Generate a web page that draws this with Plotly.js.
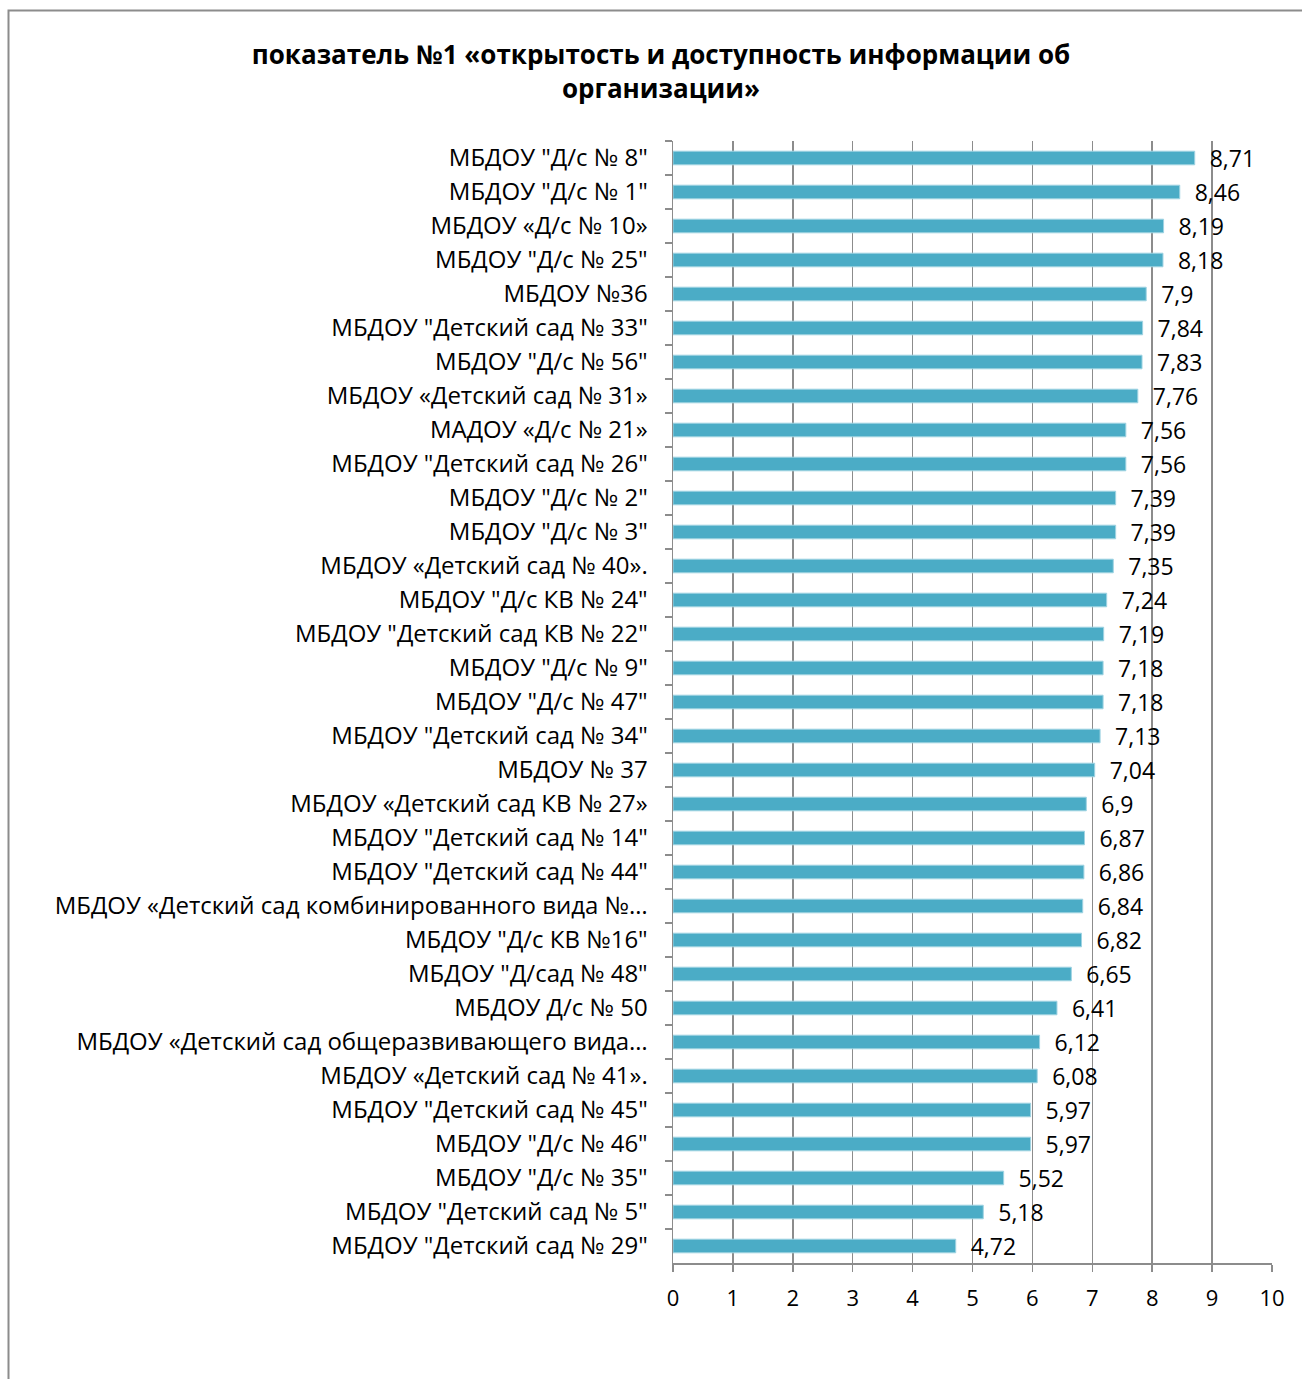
<!DOCTYPE html>
<html>
<head>
<meta charset="utf-8">
<script src="https://cdn.plot.ly/plotly-3.0.1.min.js"></script>
<style>
html,body{margin:0;padding:0;background:#fff;}
#chart{width:1302px;height:1379px;}
</style>
</head>
<body>
<div id="chart"></div>
<script>
const categories = [
  'МБДОУ "Д/с № 8"',
  'МБДОУ "Д/с № 1"',
  'МБДОУ «Д/с № 10»',
  'МБДОУ "Д/с № 25"',
  'МБДОУ №36',
  'МБДОУ "Детский сад № 33"',
  'МБДОУ "Д/с № 56"',
  'МБДОУ «Детский сад № 31»',
  'МАДОУ «Д/с № 21»',
  'МБДОУ "Детский сад № 26"',
  'МБДОУ "Д/с № 2"',
  'МБДОУ "Д/с № 3"',
  'МБДОУ «Детский сад № 40».',
  'МБДОУ "Д/с КВ № 24"',
  'МБДОУ "Детский сад КВ № 22"',
  'МБДОУ "Д/с № 9"',
  'МБДОУ "Д/с № 47"',
  'МБДОУ "Детский сад № 34"',
  'МБДОУ № 37',
  'МБДОУ «Детский сад КВ № 27»',
  'МБДОУ "Детский сад № 14"',
  'МБДОУ "Детский сад № 44"',
  'МБДОУ «Детский сад комбинированного вида №…',
  'МБДОУ "Д/с КВ №16"',
  'МБДОУ "Д/сад № 48"',
  'МБДОУ Д/с № 50',
  'МБДОУ «Детский сад общеразвивающего вида…',
  'МБДОУ «Детский сад № 41».',
  'МБДОУ "Детский сад № 45"',
  'МБДОУ "Д/с № 46"',
  'МБДОУ "Д/с № 35"',
  'МБДОУ "Детский сад № 5"',
  'МБДОУ "Детский сад № 29"'
];
const values = [8.71, 8.46, 8.19, 8.18, 7.9, 7.84, 7.83, 7.76, 7.56, 7.56, 7.39, 7.39, 7.35, 7.24, 7.19, 7.18, 7.18, 7.13, 7.04, 6.9, 6.87, 6.86, 6.84, 6.82, 6.65, 6.41, 6.12, 6.08, 5.97, 5.97, 5.52, 5.18, 4.72];
const xTickValues = [0,1,2,3,4,5,6,7,8,9,10];
const titleText = 'показатель №1 «открытость и доступность информации об<br>организации»';

const labels = values.map(v => '\u00a0\u00a0' + String(v).replace('.', ','));

// plot area in pixels
const L = 673, R = 1272, T = 141, B = 1263;
const px = p => (p - L) / (R - L);
const py = p => (B - p) / (B - T);

const trace = {
  type: 'bar',
  orientation: 'h',
  y: categories,
  x: values,
  text: labels,
  textposition: 'outside',
  constraintext: 'none',
  cliponaxis: false,
  textfont: {family: 'Open Sans, sans-serif', size: 23, color: '#000'},
  marker: {color: '#4BACC6', line: {color: '#9fd3e2', width: 1}},
  hoverinfo: 'x+y'
};

const layout = {
  width: 1302,
  height: 1379,
  margin: {l: L, r: 1302 - R, t: T, b: 1379 - B, pad: 0},
  paper_bgcolor: '#fff',
  plot_bgcolor: '#fff',
  showlegend: false,
  bargap: 0.6,
  font: {family: 'Open Sans, sans-serif', size: 22, color: '#000'},
  title: {
    text: titleText,
    font: {family: 'Open Sans, sans-serif', size: 26, color: '#000', weight: 'bold'},
    x: 661 / 1302, xref: 'container', xanchor: 'center',
    y: 1 - 64 / 1379, yref: 'container', yanchor: 'top'
  },
  xaxis: {
    range: [0, 10],
    tickvals: xTickValues,
    ticktext: xTickValues.map(String),
    showgrid: true,
    gridcolor: '#8c8c8c',
    gridwidth: 1.5,
    showline: true,
    linecolor: '#8c8c8c',
    linewidth: 1.5,
    ticks: 'outside',
    ticklen: 7,
    tickcolor: '#8c8c8c',
    tickwidth: 1.5,
    ticklabelstandoff: 8,
    zeroline: false,
    tickfont: {size: 22, color: '#000'},
    fixedrange: true
  },
  yaxis: {
    type: 'category',
    autorange: 'reversed',
    showgrid: false,
    showline: true,
    linecolor: '#8c8c8c',
    linewidth: 1.5,
    ticks: 'outside',
    tickson: 'boundaries',
    ticklen: 7,
    tickcolor: '#8c8c8c',
    tickwidth: 1.5,
    ticklabelstandoff: 19,
    tickfont: {size: 24, color: '#000'},
    fixedrange: true
  },
  shapes: [{
    type: 'rect', xref: 'paper', yref: 'paper',
    x0: px(8.5), x1: px(1340), y0: py(1420), y1: py(10.5),
    line: {color: '#8c8c8c', width: 2},
    fillcolor: 'rgba(0,0,0,0)',
    layer: 'below'
  }]
};

Plotly.newPlot('chart', [trace], layout, {displayModeBar: false, staticPlot: true});
</script>
</body>
</html>
